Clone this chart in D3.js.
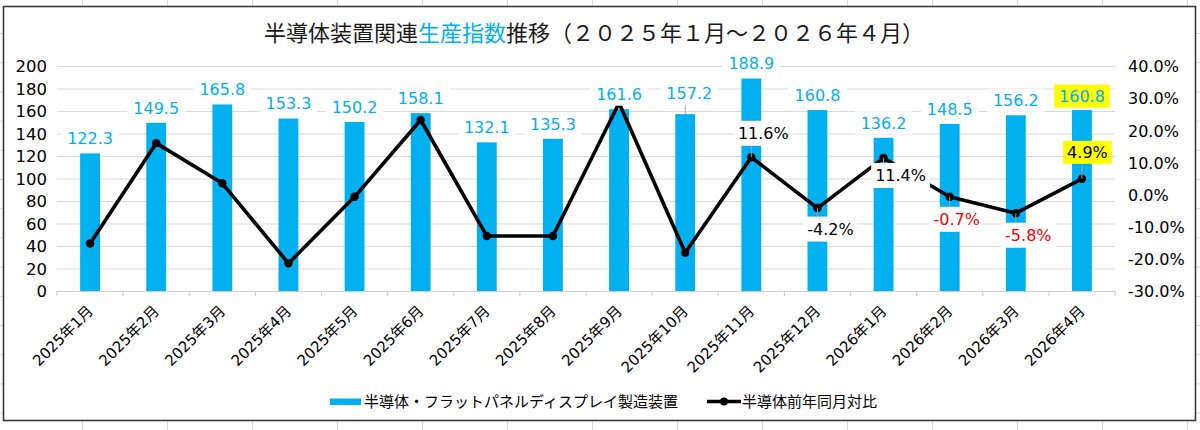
<!DOCTYPE html>
<html><head><meta charset="utf-8">
<script src="https://cdn.jsdelivr.net/npm/d3@7"></script>
<style>body{margin:0;background:#fff} svg{display:block}</style>
</head><body><svg id="c" width="1200" height="430"></svg>
<script>
// ---------------- DATA ----------------
const categories = ["2025年1月","2025年2月","2025年3月","2025年4月","2025年5月","2025年6月","2025年7月","2025年8月","2025年9月","2025年10月","2025年11月","2025年12月","2026年1月","2026年2月","2026年3月","2026年4月"];
const productionIndex = [122.3,149.5,165.8,153.3,150.2,158.1,132.1,135.3,161.6,157.2,188.9,160.8,136.2,148.5,156.2,160.8];
const yoyChange = [-15.2,16.0,3.5,-21.4,-0.7,23.2,-12.9,-12.9,28.5,-18.1,11.6,-4.2,11.4,-0.7,-5.8,4.9];
const leftTicks = [0,20,40,60,80,100,120,140,160,180,200];
const rightTicks = [-30,-20,-10,0,10,20,30,40];
const barSeriesName = "半導体・フラットパネルディスプレイ製造装置";
const lineSeriesName = "半導体前年同月対比";
const titleParts = ["半導体装置関連","生産指数","推移（２０２５年１月～２０２６年４月）"];

// ---------------- LAYOUT / STYLE ----------------
const BLUE = "#00b0f0", RED = "#ff0000", YELLOW = "#ffff00";
const NUMFONT = "'DejaVu Sans', sans-serif";
const JPFONT = "'Noto Sans CJK JP', sans-serif";
const MIXFONT = "'DejaVu Sans', 'Noto Sans CJK JP', sans-serif";
const locale = d3.formatLocale({decimal:".", thousands:",", grouping:[3], currency:["",""], minus:"-"});
const f1 = locale.format(".1f");
const plot = {left:57, right:1115, top:66, bottom:291};
const svg = d3.select("#c");

// spreadsheet grid behind the chart
const sheet = svg.append("g");
for (let k = 0; k < 14; k++) { const x = 82.5 + 85*k;
  sheet.append("line").attr("x1",x).attr("x2",x).attr("y1",0).attr("y2",430).attr("stroke","#d9d9d9"); }
for (let k = 0; k < 15; k++) { const y = 33.5 + 29.2*k;
  sheet.append("line").attr("x1",0).attr("x2",1200).attr("y1",y).attr("y2",y).attr("stroke","#d9d9d9"); }
svg.append("rect").attr("x",3.5).attr("y",6.5).attr("width",1192).attr("height",414)
  .attr("fill","#fff").attr("stroke","#3a3a3a").attr("stroke-width",1.6);

// scales
const x = d3.scaleBand().domain(categories).range([plot.left, plot.right]).paddingInner(0.7).paddingOuter(0.35);
const step = x.step();
const cx = c => x(c) + x.bandwidth()/2;
const yL = d3.scaleLinear().domain([0,200]).range([plot.bottom, plot.top]);
const yR = d3.scaleLinear().domain([-30,40]).range([plot.bottom, plot.top]);

// gridlines
svg.append("g").selectAll("line").data(leftTicks.filter(t=>t>0)).join("line")
  .attr("x1",plot.left).attr("x2",plot.right)
  .attr("y1",d=>yL(d)+0.5).attr("y2",d=>yL(d)+0.5)
  .attr("stroke","#d9d9d9").attr("stroke-width",1.2);

// left axis
const gl = svg.append("g").attr("transform",`translate(${plot.left-10},0)`)
  .call(d3.axisLeft(yL).tickValues(leftTicks).tickSize(0).tickPadding(0));
gl.select(".domain").remove();
gl.selectAll("text").attr("font-family",NUMFONT).attr("font-size",16.5).attr("fill","#000").attr("dy","0.36em");

// right axis
const gr = svg.append("g").attr("transform",`translate(${plot.right+13},0)`)
  .call(d3.axisRight(yR).tickValues(rightTicks).tickSize(0).tickPadding(0).tickFormat(d=>f1(d)+"%"));
gr.select(".domain").remove();
gr.selectAll("text").attr("font-family",NUMFONT).attr("font-size",16).attr("fill","#000").attr("dy","0.36em");

// category axis line + ticks
svg.append("line").attr("x1",plot.left).attr("x2",plot.right).attr("y1",plot.bottom+0.5).attr("y2",plot.bottom+0.5)
  .attr("stroke","#d0d0d0").attr("stroke-width",1.2);
const bounds = categories.map(c => x(c) + x.bandwidth()/2 - step/2).concat([plot.right]);
svg.append("g").selectAll("line").data(bounds).join("line")
  .attr("x1",d=>d).attr("x2",d=>d).attr("y1",plot.bottom).attr("y2",plot.bottom+5)
  .attr("stroke","#d0d0d0").attr("stroke-width",1.2);
svg.append("g").selectAll("text").data(categories).join("text")
  .attr("transform",d=>`translate(${cx(d)+4},${plot.bottom+21}) rotate(-45)`)
  .attr("text-anchor","end").attr("font-family",MIXFONT).attr("font-size",15).attr("fill","#000")
  .text(d=>d);

// bars
svg.append("g").selectAll("rect").data(categories).join("rect")
  .attr("x",d=>x(d)).attr("width",x.bandwidth())
  .attr("y",(d,i)=>yL(productionIndex[i])).attr("height",(d,i)=>yL(0)-yL(productionIndex[i]))
  .attr("fill",BLUE);

// line
const pts = categories.map((c,i)=>[cx(c), yR(yoyChange[i])]);
svg.append("path").attr("d",d3.line()(pts)).attr("fill","none").attr("stroke","#000")
  .attr("stroke-width",3.6).attr("stroke-linejoin","round");
svg.append("g").selectAll("circle").data(pts).join("circle")
  .attr("cx",d=>d[0]).attr("cy",d=>d[1]).attr("r",4.2).attr("fill","#000");

// label helper
function label(cxp, cyp, txt, opts) {
  const g = svg.append("g");
  const t = g.append("text").attr("x",cxp).attr("y",cyp).attr("dy","0.36em").attr("text-anchor","middle")
    .attr("font-family",NUMFONT).attr("font-size",16).attr("fill",opts.color).text(txt);
  const w = t.node().getComputedTextLength();
  const bw = w + opts.pad*2, bh = opts.h;
  g.insert("rect","text").attr("x",cxp-bw/2).attr("y",cyp-bh/2).attr("width",bw).attr("height",bh).attr("fill",opts.bg);
  if (opts.leader) {
    const [px,py] = opts.leader;
    const qx = Math.max(cxp-bw/2, Math.min(cxp+bw/2, px));
    const qy = Math.max(cyp-bh/2, Math.min(cyp+bh/2, py));
    if (Math.hypot(px-qx,py-qy) > 3)
      g.insert("line","rect").attr("x1",px).attr("y1",py).attr("x2",qx).attr("y2",qy).attr("stroke","#a0a0a0").attr("stroke-width",1);
  }
}

// bar labels
const barLabelLayout = {9:{dx:4,dy:-21,leader:true}, 15:{dy:-14,bg:YELLOW}};
categories.forEach((c,i)=>{
  const o = barLabelLayout[i] || {};
  const top = yL(productionIndex[i]);
  const lx = cx(c) + (o.dx||0), ly = top + (o.dy!==undefined?o.dy:-15);
  label(lx, ly, f1(productionIndex[i]),
    {color:BLUE, bg:o.bg||"#fff", pad:o.bg?5:6, h:23, leader:o.leader?[cx(c),top]:null});
});

// line labels
const lineLabelLayout = {
  10:{dx:12,dy:-24,color:"#000"}, 11:{dx:13,dy:21,color:"#000"}, 12:{dx:17,dy:17.5,color:"#000"},
  13:{dx:7,dy:22.5,color:RED}, 14:{dx:12.5,dy:22,color:RED}, 15:{dx:5.5,dy:-26.5,color:"#000",bg:YELLOW}
};
Object.keys(lineLabelLayout).forEach(k=>{
  const i = +k, o = lineLabelLayout[k], [px,py] = pts[i];
  label(px+o.dx, py+o.dy, f1(yoyChange[i])+"%",
    {color:o.color, bg:o.bg||"#fff", pad:4, h:o.bg?23:25, leader:[px,py]});
});

// title
const tt = svg.append("text").attr("x",594).attr("y",41).attr("text-anchor","middle")
  .attr("font-family",JPFONT).attr("font-size",22).attr("fill","#1a1a1a");
titleParts.forEach((p,i)=>tt.append("tspan").attr("fill",i===1?BLUE:"#1a1a1a").text(p));

// legend
const lg = svg.append("g");
lg.append("rect").attr("x",330).attr("y",398.5).attr("width",31).attr("height",6.5).attr("fill",BLUE);
lg.append("text").attr("x",364).attr("y",407).attr("font-family",JPFONT).attr("font-size",15).attr("fill","#000").text(barSeriesName);
lg.append("line").attr("x1",707).attr("x2",741).attr("y1",401.5).attr("y2",401.5).attr("stroke","#000").attr("stroke-width",3.6);
lg.append("circle").attr("cx",724).attr("cy",401.5).attr("r",4).attr("fill","#000");
lg.append("text").attr("x",742).attr("y",407).attr("font-family",JPFONT).attr("font-size",15).attr("fill","#000").text(lineSeriesName);
</script></body></html>
